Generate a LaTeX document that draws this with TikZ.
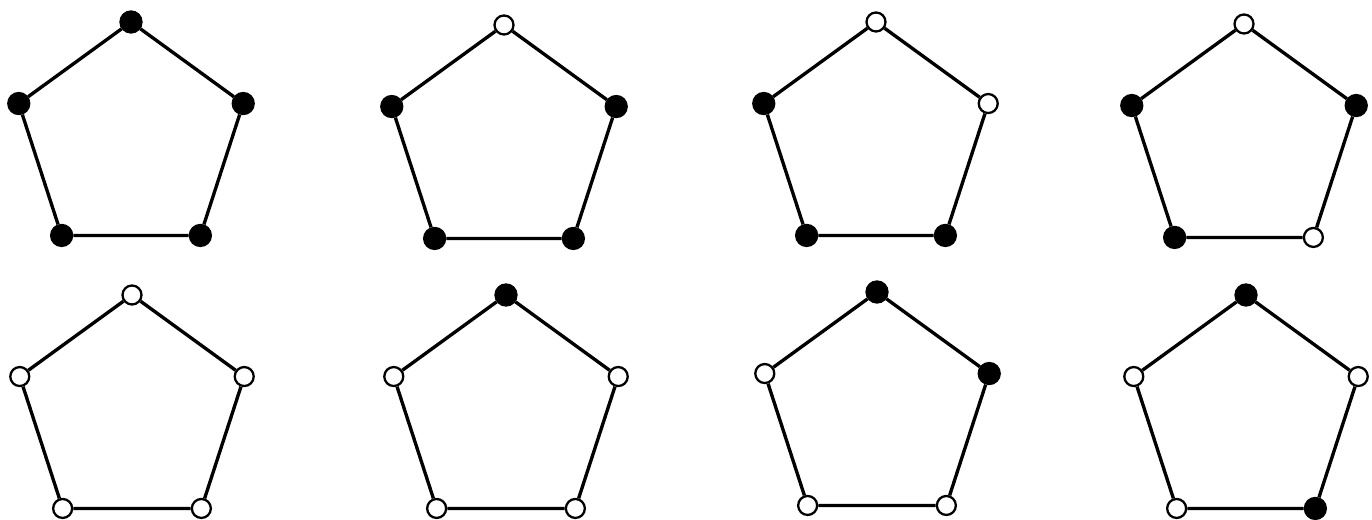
\documentclass[tikz,border=0pt]{standalone}
\usepackage{tikz}
\usetikzlibrary{calc}

\tikzset{
  bk/.style={circle, draw, fill=black, line width=1.3pt, inner sep=0pt, minimum size=0.42cm},
  wt/.style={circle, draw, fill=white, line width=1.3pt, inner sep=0pt, minimum size=0.38cm},
  edge/.style={line width=1.9pt}
}

% pentagon: name, centre x, centre y, top, right, bottom right, bottom left, left
\newcommand{\pent}[8]{%
  \begin{scope}[shift={(#2,#3)}]
    \node[#4] (#1t) at (90:118) {};
    \node[#5] (#1r) at (18:118) {};
    \node[#6] (#1br) at (-54:118) {};
    \node[#7] (#1bl) at (-126:118) {};
    \node[#8] (#1l) at (162:118) {};
  \end{scope}
  \draw[edge] (#1t) -- (#1r) -- (#1br) -- (#1bl) -- (#1l) -- (#1t);
}

\begin{document}
\begin{tikzpicture}[x=0.02cm, y=0.02cm]
\useasboundingbox (0,0) rectangle (1372,520);

% Top row
\pent{a}{131}{380}{bk}{bk}{bk}{bk}{bk}
\pent{b}{504}{377}{wt}{bk}{bk}{bk}{bk}
\pent{c}{876}{380}{wt}{wt}{bk}{bk}{bk}
\pent{d}{1244}{378}{wt}{bk}{wt}{bk}{bk}

% Bottom row
\pent{e}{132}{107}{wt}{wt}{wt}{wt}{wt}
\pent{f}{506}{107}{bk}{wt}{wt}{wt}{wt}
\pent{g}{877}{110}{bk}{bk}{wt}{wt}{wt}
\pent{h}{1246}{107}{bk}{wt}{bk}{wt}{wt}
\end{tikzpicture}
\end{document}
